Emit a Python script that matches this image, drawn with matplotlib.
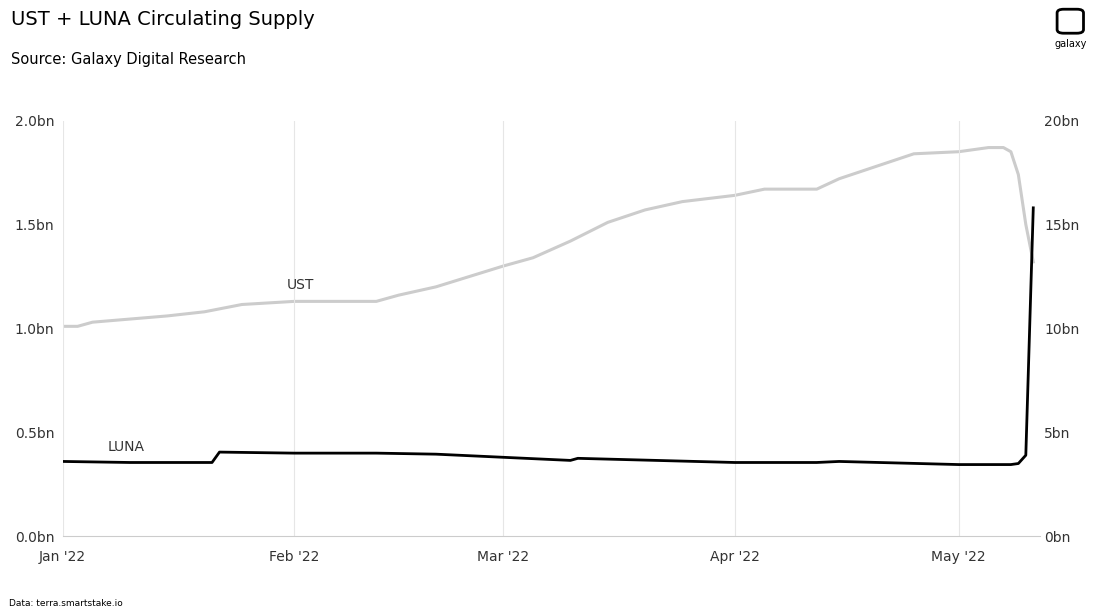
import matplotlib
matplotlib.use("Agg")
import matplotlib.pyplot as plt
import pandas as pd

ust_dates = ["2022-01-01","2022-01-03","2022-01-05","2022-01-10","2022-01-15","2022-01-20","2022-01-25","2022-02-01",
             "2022-02-10","2022-02-12","2022-02-15","2022-02-20","2022-03-01","2022-03-05","2022-03-10","2022-03-15",
             "2022-03-20","2022-03-25","2022-04-01","2022-04-05","2022-04-12","2022-04-15","2022-04-20","2022-04-25",
             "2022-05-01","2022-05-05","2022-05-07","2022-05-08","2022-05-09","2022-05-10","2022-05-11"]
ust_bn = [10.1,10.1,10.3,10.45,10.6,10.8,11.15,11.3,11.3,11.3,11.6,12.0,13.0,13.4,14.2,15.1,15.7,16.1,16.4,16.7,16.7,17.2,17.8,18.4,18.5,18.7,18.7,18.5,17.4,15.0,13.2]

luna_dates = ["2022-01-01","2022-01-10","2022-01-21","2022-01-22","2022-02-01","2022-02-12","2022-02-20","2022-03-01",
              "2022-03-10","2022-03-11","2022-04-01","2022-04-12","2022-04-15","2022-05-01","2022-05-08","2022-05-09",
              "2022-05-10","2022-05-11"]
luna_bn = [0.36,0.355,0.355,0.405,0.40,0.40,0.395,0.38,0.365,0.375,0.355,0.355,0.36,0.345,0.345,0.35,0.39,1.58]

fig = plt.figure(figsize=(11,6.15), dpi=100)
ax = fig.add_axes([0.057, 0.128, 0.888, 0.676])
ax2 = ax.twinx()
ax2.plot(pd.to_datetime(ust_dates), ust_bn, color="#cccccc", lw=2.2)
ax.plot(pd.to_datetime(luna_dates), luna_bn, color="black", lw=2)
ax.set_zorder(ax2.get_zorder()+1); ax.patch.set_visible(False)
ax.set_ylim(0,2.0); ax2.set_ylim(0,20)
ax.set_xlim(pd.Timestamp("2022-01-01"), pd.Timestamp("2022-05-11 20:00"))
ax.set_yticks([0,0.5,1.0,1.5,2.0]); ax.set_yticklabels(["0.0bn","0.5bn","1.0bn","1.5bn","2.0bn"])
ax2.set_yticks([0,5,10,15,20]); ax2.set_yticklabels(["0bn","5bn","10bn","15bn","20bn"])
ticks = pd.to_datetime(["2022-01-01","2022-02-01","2022-03-01","2022-04-01","2022-05-01"])
ax.set_xticks(ticks); ax.set_xticklabels(["Jan '22","Feb '22","Mar '22","Apr '22","May '22"])
ax.grid(axis="x", color="#e6e6e6", lw=0.8)
for a in (ax, ax2):
    for s in a.spines.values(): s.set_visible(False)
    a.tick_params(length=0, labelsize=10, colors="#333333")
ax.tick_params(axis="x", pad=10)
ax.tick_params(axis="y", pad=6)
ax.spines["bottom"].set_visible(True); ax.spines["bottom"].set_color("#cccccc")
ax.text(pd.Timestamp("2022-01-31"), 1.19, "UST", fontsize=10, color="#333333")
ax.text(pd.Timestamp("2022-01-07"), 0.41, "LUNA", fontsize=10, color="#333333")
fig.text(0.01, 0.968, "UST + LUNA Circulating Supply", fontsize=14, va="center")
fig.text(0.01, 0.904, "Source: Galaxy Digital Research", fontsize=10.5, va="center")
fig.text(0.008, 0.018, "Data: terra.smartstake.io", fontsize=6.5, va="center")
fig.text(0.973, 0.928, "galaxy", fontsize=7, ha="center", va="center")
fig.patches.append(matplotlib.patches.FancyBboxPatch((0.963,0.948),0.02,0.035,boxstyle="round,pad=0.002,rounding_size=0.006",
    transform=fig.transFigure, fill=False, lw=2, ec="black"))
fig.savefig("out.png")
